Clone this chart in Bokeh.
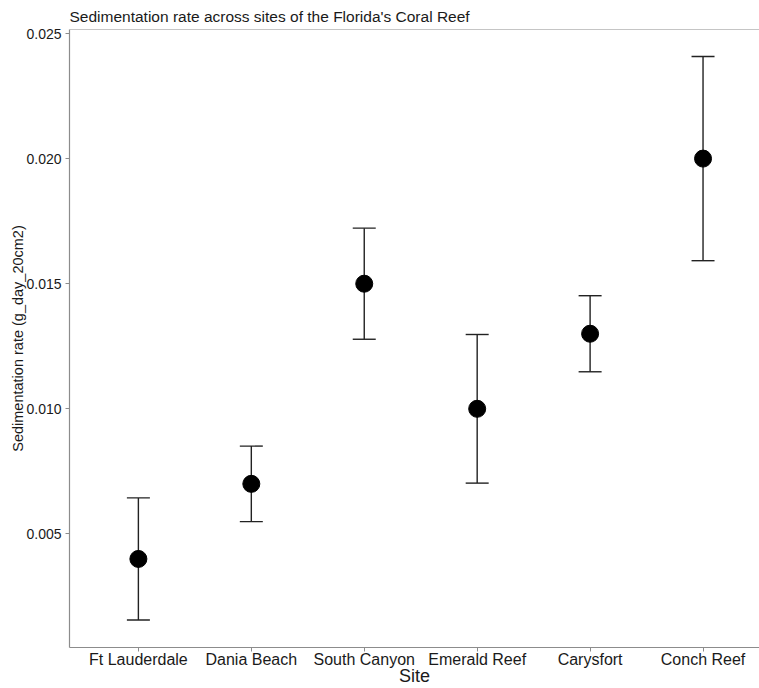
from bokeh.plotting import figure
from bokeh.models import ColumnDataSource, Whisker, TeeHead, FixedTicker, Range1d, Span, NumeralTickFormatter
from bokeh.embed import file_html
from bokeh.resources import INLINE

sites = ["Ft Lauderdale", "Dania Beach", "South Canyon", "Emerald Reef", "Carysfort", "Conch Reef"]
mean_rate = [0.004, 0.007, 0.015, 0.010, 0.013, 0.020]
se_rate = [0.00244, 0.00151, 0.00222, 0.00297, 0.00152, 0.00408]
y_ticks = [0.005, 0.010, 0.015, 0.020, 0.025]

xpos = [i + 1 for i in range(len(sites))]
src = ColumnDataSource(dict(
    x=xpos,
    y=mean_rate,
    upper=[m + s for m, s in zip(mean_rate, se_rate)],
    lower=[m - s for m, s in zip(mean_rate, se_rate)],
))

FONT = "Liberation Sans"
AX = "#8c8c8c"

p = figure(width=759, height=688, output_backend="svg", toolbar_location=None,
           x_range=Range1d(0.39, 6.5), y_range=Range1d(0.00046, 0.02516),
           title="Sedimentation rate across sites of the Florida's Coral Reef")
p.min_border_left = 69
p.min_border_right = 0
p.min_border_top = 0
p.min_border_bottom = 0
p.outline_line_color = None
p.background_fill_color = "white"
p.border_fill_color = "white"
p.xgrid.visible = False
p.ygrid.visible = False

p.title.text_font = FONT
p.title.text_font_size = "15.5px"
p.title.text_font_style = "normal"
p.title.text_color = "#1a1a1a"
p.title.offset = 0
p.title.standoff = 10

for ax in (p.xaxis[0], p.yaxis[0]):
    ax.axis_line_color = AX
    ax.axis_line_width = 1.2
    ax.major_tick_line_color = AX
    ax.major_tick_in = 0
    ax.major_tick_out = 4
    ax.minor_tick_line_color = None
    ax.major_label_text_font = FONT
    ax.major_label_text_color = "#1a1a1a"
    ax.axis_label_text_font = FONT
    ax.axis_label_text_font_style = "normal"
    ax.axis_label_text_color = "#1a1a1a"

p.xaxis.ticker = FixedTicker(ticks=xpos)
p.xaxis.major_label_overrides = {x: s for x, s in zip(xpos, sites)}
p.xaxis.major_label_text_font_size = "16px"
p.xaxis.major_label_standoff = -1
p.xaxis.axis_label = "Site"
p.xaxis.axis_label_text_font_size = "18px"
p.xaxis.axis_label_standoff = -5

p.yaxis.ticker = FixedTicker(ticks=y_ticks)
p.yaxis.formatter = NumeralTickFormatter(format="0.000")
p.yaxis.major_label_text_font_size = "14px"
p.yaxis.major_label_standoff = 4
p.yaxis.axis_label = "Sedimentation rate (g_day_20cm2)"
p.yaxis.axis_label_text_font_size = "14.5px"
p.yaxis.axis_label_standoff = -3

p.add_layout(Span(location=0.02516, dimension="width", line_color=AX, line_width=1.2))

w = Whisker(base="x", upper="upper", lower="lower", source=src,
            line_color="#222222", line_width=1.4,
            upper_head=TeeHead(size=23, line_color="#222222", line_width=1.4),
            lower_head=TeeHead(size=23, line_color="#222222", line_width=1.4))
p.add_layout(w)

p.scatter("x", "y", source=src, size=17, color="black")

open("out.html", "w").write(file_html(p, INLINE))
